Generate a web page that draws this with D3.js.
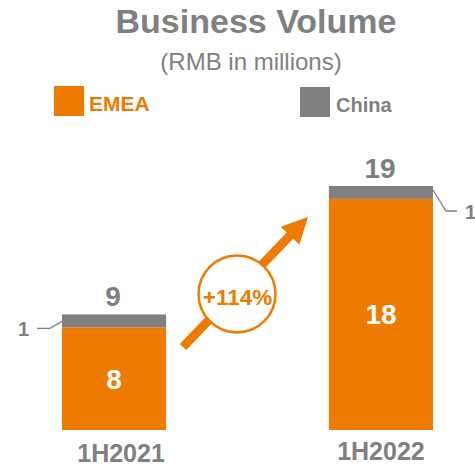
<!DOCTYPE html>
<html>
<head>
<meta charset="utf-8">
<script src="https://cdn.jsdelivr.net/npm/d3@7"></script>
<style>
  html, body { margin: 0; padding: 0; background: #fff; }
  svg { display: block; font-family: "Liberation Sans", Arial, sans-serif; }
</style>
</head>
<body>
<svg id="chart" width="475" height="468"></svg>
<script>
// Half-year business volume, RMB millions
const periods = ["1H2021", "1H2022"];
const emea = [8, 18];
const china = [1, 1];
const totals = [9, 19];
const growthLabel = "+114%";
const seriesNames = ["EMEA", "China"];

const ORANGE = "#ee7b00";
const GREY = "#808080";

const svg = d3.select("#chart");

// Scales
const x = d3.scaleBand().domain(periods).range([62, 433]).paddingInner(0.61).paddingOuter(0);
const y = d3.scaleLinear().domain([0, 19]).range([430, 186]);

// Title
svg.append("text")
  .attr("x", 256).attr("y", 33)
  .attr("text-anchor", "middle")
  .attr("font-size", 34).attr("font-weight", "bold")
  .attr("fill", GREY)
  .text("Business Volume");

svg.append("text")
  .attr("x", 251).attr("y", 70)
  .attr("text-anchor", "middle")
  .attr("font-size", 24)
  .attr("fill", GREY)
  .text("(RMB in millions)");

// Legend
const legendItems = [
  { name: seriesNames[0], color: ORANGE, textColor: ORANGE, x: 54, y: 86, size: 21 },
  { name: seriesNames[1], color: GREY, textColor: GREY, x: 300, y: 87, size: 20 }
];
const lg = svg.append("g").selectAll("g").data(legendItems).join("g")
  .attr("transform", d => `translate(${d.x},${d.y})`);
lg.append("rect").attr("width", 30).attr("height", 30).attr("fill", d => d.color);
lg.append("text")
  .attr("x", d => d.name === "EMEA" ? 35 : 36)
  .attr("y", 25)
  .attr("font-size", d => d.size).attr("font-weight", "bold")
  .attr("fill", d => d.textColor)
  .text(d => d.name);

// Stacked bars
const rows = periods.map((p, i) => ({ period: p, EMEA: emea[i], China: china[i], total: totals[i] }));
const stacked = d3.stack().keys(seriesNames)(rows);
const colors = { EMEA: ORANGE, China: GREY };

svg.append("g").selectAll("g").data(stacked).join("g")
  .attr("fill", s => colors[s.key])
  .selectAll("rect").data(s => s).join("rect")
  .attr("x", d => x(d.data.period))
  .attr("y", d => y(d[1]))
  .attr("width", x.bandwidth())
  .attr("height", d => y(d[0]) - y(d[1]));

// EMEA values inside bars
svg.append("g").selectAll("text").data(rows).join("text")
  .attr("x", d => x(d.period) + x.bandwidth() / 2)
  .attr("y", d => (y(0) + y(d.EMEA)) / 2 + 10)
  .attr("text-anchor", "middle")
  .attr("font-size", 28).attr("font-weight", "bold")
  .attr("fill", "#fff")
  .text(d => d.EMEA);

// Totals above bars
svg.append("g").selectAll("text").data(rows).join("text")
  .attr("x", d => x(d.period) + x.bandwidth() / 2 - 1)
  .attr("y", d => y(d.total) - 8)
  .attr("text-anchor", "middle")
  .attr("font-size", 28).attr("font-weight", "bold")
  .attr("fill", GREY)
  .text(d => d.total);

// China callouts with leader lines
const r0 = rows[0], r1 = rows[1];
const left0 = x(r0.period), right1 = x(r1.period) + x.bandwidth();
const leader = svg.append("g").attr("fill", "none").attr("stroke", GREY).attr("stroke-width", 1.3);
leader.append("path").attr("d", d3.line()([
  [left0, y(r0.total) + 7], [50, y(r0.total) + 14], [37, y(r0.total) + 14]
]));
leader.append("path").attr("d", d3.line()([
  [right1, y(r1.total) + 4], [446, y(r1.total) + 25], [457, y(r1.total) + 25]
]));
svg.append("text")
  .attr("x", 18).attr("y", y(r0.total) + 22)
  .attr("font-size", 20).attr("font-weight", "bold").attr("fill", GREY)
  .text(r0.China);
svg.append("text")
  .attr("x", 465).attr("y", y(r1.total) + 33)
  .attr("font-size", 20).attr("font-weight", "bold").attr("fill", GREY)
  .text(r1.China);

// Period labels
svg.append("g").selectAll("text").data(rows).join("text")
  .attr("x", (d, i) => x(d.period) + x.bandwidth() / 2 + (i === 0 ? 7 : 0))
  .attr("y", (d, i) => i === 0 ? 462 : 460)
  .attr("text-anchor", "middle")
  .attr("font-size", 25).attr("font-weight", "bold")
  .attr("fill", GREY)
  .text(d => d.period);

// Growth arrow with circled percentage
const arrow = svg.append("g");
const start = [183, 347], tip = [308, 217];
const ang = Math.atan2(tip[1] - start[1], tip[0] - start[0]);
const headLen = 26, headHalf = 13, shaftHalf = 4.5;
const ux = Math.cos(ang), uy = Math.sin(ang), px = -uy, py = ux;
const base = [tip[0] - ux * headLen, tip[1] - uy * headLen];
arrow.append("path")
  .attr("fill", ORANGE)
  .attr("d", d3.line()([
    [start[0] + px * shaftHalf, start[1] + py * shaftHalf],
    [base[0] + px * shaftHalf, base[1] + py * shaftHalf],
    [base[0] + px * headHalf, base[1] + py * headHalf],
    tip,
    [base[0] - px * headHalf, base[1] - py * headHalf],
    [base[0] - px * shaftHalf, base[1] - py * shaftHalf],
    [start[0] - px * shaftHalf, start[1] - py * shaftHalf]
  ]) + "Z");
arrow.append("circle")
  .attr("cx", 237).attr("cy", 294).attr("r", 38.5)
  .attr("fill", "#fff").attr("stroke", ORANGE).attr("stroke-width", 2.5);
arrow.append("text")
  .attr("x", 237.5).attr("y", 305)
  .attr("text-anchor", "middle")
  .attr("font-size", 22.5).attr("font-weight", "bold")
  .attr("fill", ORANGE)
  .text(growthLabel);
</script>
</body>
</html>
